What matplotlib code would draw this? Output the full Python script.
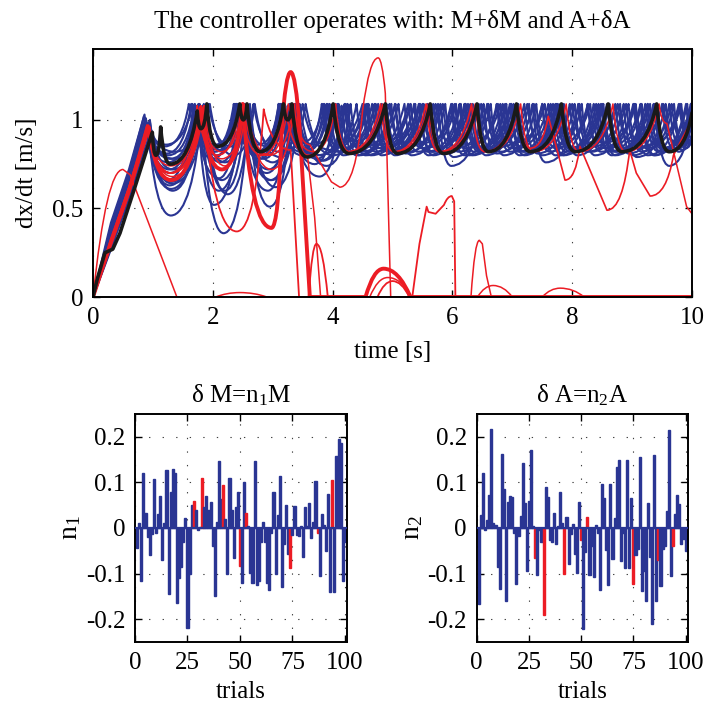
import matplotlib
matplotlib.use('Agg')
import matplotlib.pyplot as plt
from matplotlib.path import Path
from matplotlib.patches import PathPatch

plt.rcParams['font.family'] = ['Liberation Serif', 'DejaVu Serif']
plt.rcParams['mathtext.fontset'] = 'custom'
plt.rcParams['mathtext.rm'] = 'Liberation Serif'
plt.rcParams['mathtext.it'] = 'Liberation Serif:italic'
plt.rcParams['axes.unicode_minus'] = False

# ---------------- data: top panel (time [s], dx/dt [m/s]) vertices
# kinds: L = straight, C = scallop (cusp at top, round trough), A = arch (round top)
blue_b01 = [(0,0),(0.3,0.3),(0.6,0.68),(0.92,0.97),(1.3,0.46),(1.82,1.06),(2.18,0.36),(2.6,1.07),(2.95,0.51),(3.3,1.09),(3.78,0.68),(4.15,1.08),(4.4,0.8),(4.98,1.09),(5.22,0.81),(5.76,1.09),(5.98,0.74),(6.52,1.09),(6.74,0.81),(7.28,1.09),(7.5,0.8),(8.04,1.09),(8.26,0.82),(8.8,1.09),(9.02,0.8),(9.56,1.09),(9.78,0.82),(10,1.0)]
blue_b02 = [(0,0),(0.3,0.34),(0.6,0.62),(0.9,0.98),(1.28,0.63),(1.75,1.08),(2.02,0.52),(2.48,1.09),(2.92,0.6),(3.25,1.08),(3.7,0.75),(4.05,1.09),(4.28,0.82),(4.82,1.09),(5.04,0.8),(5.58,1.09),(5.8,0.82),(6.34,1.09),(6.56,0.8),(7.1,1.09),(7.32,0.82),(7.86,1.09),(8.08,0.8),(8.62,1.09),(8.84,0.82),(9.38,1.09),(9.62,0.74),(10,1.05)]
blue_b03 = [(0,0),(0.3,0.3),(0.6,0.6),(0.95,1.0),(1.3,0.65),(1.85,1.09),(2.2,0.6),(2.55,1.08),(2.98,0.66),(3.4,1.09),(3.85,0.77),(4.25,1.09),(4.48,0.82),(5.1,1.09),(5.32,0.8),(5.88,1.09),(6.1,0.82),(6.64,1.09),(6.86,0.8),(7.4,1.09),(7.62,0.82),(8.16,1.09),(8.38,0.8),(8.94,1.09),(9.16,0.82),(9.7,1.09),(9.9,0.84),(10,0.9)]
blue_b04 = [(0,0),(0.3,0.36),(0.6,0.66),(0.88,0.96),(1.25,0.76),(1.7,1.07),(2.1,0.67),(2.42,1.09),(2.8,0.8),(3.15,1.09),(3.55,0.82),(3.95,1.09),(4.18,0.8),(4.7,1.09),(4.92,0.82),(5.46,1.09),(5.68,0.8),(6.22,1.09),(6.44,0.82),(6.98,1.09),(7.2,0.8),(7.74,1.09),(7.96,0.82),(8.5,1.09),(8.72,0.8),(9.26,1.09),(9.48,0.82),(10,1.09)]
blue_b05 = [(0,0),(0.3,0.4),(0.6,0.7),(0.85,1.02),(1.2,0.85),(1.6,1.09),(1.98,0.83),(2.35,1.09),(2.72,0.82),(3.1,1.09),(3.48,0.8),(3.86,1.09),(4.08,0.82),(4.6,1.09),(4.82,0.8),(5.36,1.09),(5.58,0.82),(6.12,1.09),(6.34,0.8),(6.88,1.09),(7.1,0.82),(7.64,1.09),(7.86,0.8),(8.4,1.09),(8.62,0.82),(9.16,1.09),(9.38,0.8),(9.92,1.09),(10,1.0)]
blue_b06 = [(0,0),(0.3,0.28),(0.6,0.56),(0.93,0.95),(1.32,0.64),(1.88,1.08),(2.25,0.58),(2.62,1.09),(3.05,0.62),(3.45,1.09),(3.9,0.74),(4.3,1.09),(4.55,0.8),(5.2,1.09),(5.42,0.82),(5.98,1.09),(6.2,0.8),(6.74,1.09),(6.96,0.82),(7.5,1.09),(7.72,0.8),(8.26,1.09),(8.48,0.82),(9.04,1.09),(9.26,0.8),(9.8,1.09),(10,0.86)]
blue_b07 = [(0,0),(0.3,0.33),(0.6,0.63),(0.9,0.97),(1.27,0.72),(1.72,1.08),(2.06,0.8),(2.45,1.09),(2.85,0.78),(3.2,1.09),(3.62,0.8),(4.0,1.09),(4.22,0.84),(4.76,1.09),(4.98,0.82),(5.52,1.09),(5.74,0.84),(6.3,1.09),(6.52,0.82),(7.06,1.09),(7.28,0.84),(7.84,1.09),(8.06,0.82),(8.62,1.09),(8.84,0.84),(9.4,1.09),(9.62,0.82),(10,1.06)]
blue_b08 = [(0,0),(0.3,0.27),(0.6,0.55),(0.96,0.93),(1.35,0.78),(1.93,1.09),(2.3,0.85),(2.68,1.09),(3.1,0.82),(3.5,1.09),(3.95,0.83),(4.4,1.09),(4.64,0.8),(5.3,1.09),(5.52,0.84),(6.06,1.09),(6.28,0.8),(6.84,1.09),(7.06,0.84),(7.6,1.09),(7.82,0.8),(8.36,1.09),(8.58,0.84),(9.14,1.09),(9.36,0.8),(9.9,1.09),(10,0.95)]
blue_b09 = [(0,0),(0.3,0.38),(0.6,0.68),(0.87,1.0),(1.22,0.86),(1.66,1.09),(2.0,0.84),(2.38,1.09),(2.76,0.82),(3.13,1.09),(3.5,0.84),(3.9,1.09),(4.12,0.82),(4.66,1.09),(4.88,0.84),(5.44,1.09),(5.66,0.82),(6.2,1.09),(6.42,0.84),(6.96,1.09),(7.18,0.82),(7.72,1.09),(7.94,0.84),(8.48,1.09),(8.7,0.82),(9.26,1.09),(9.48,0.84),(10,1.05)]
blue_b10 = [(0,0),(0.3,0.32),(0.6,0.6),(0.9,0.96),(1.3,0.61),(1.8,1.07),(2.15,0.66),(2.52,1.09),(2.96,0.66),(3.36,1.09),(3.82,0.77),(4.2,1.09),(4.44,0.8),(5.04,1.09),(5.26,0.82),(5.8,1.09),(6.02,0.79),(6.58,1.09),(6.8,0.82),(7.34,1.09),(7.56,0.76),(8.1,1.09),(8.32,0.82),(8.86,1.09),(9.08,0.79),(9.62,1.09),(9.84,0.83),(10,0.92)]
blue_b11 = [(0,0),(0.3,0.31),(0.6,0.58),(0.94,0.99),(1.33,0.6),(1.78,1.09),(2.12,0.76),(2.5,1.09),(2.9,0.7),(3.28,1.09),(3.74,0.78),(4.08,1.09),(4.33,0.81),(4.9,1.09),(5.12,0.83),(5.68,1.09),(5.9,0.81),(6.44,1.09),(6.66,0.83),(7.2,1.09),(7.42,0.81),(7.96,1.09),(8.18,0.83),(8.72,1.09),(8.94,0.81),(9.5,1.09),(9.72,0.83),(10,1.0)]
blue_b12 = [(0,0),(0.3,0.42),(0.6,0.72),(0.86,1.03),(1.24,0.66),(1.68,1.08),(2.04,0.82),(2.4,1.09),(2.78,0.78),(3.16,1.09),(3.56,0.82),(3.92,1.09),(4.16,0.84),(4.72,1.09),(4.94,0.82),(5.5,1.09),(5.72,0.84),(6.26,1.09),(6.48,0.82),(7.02,1.09),(7.24,0.84),(7.8,1.09),(8.02,0.82),(8.58,1.09),(8.8,0.84),(9.36,1.09),(9.58,0.82),(10,1.1)]
blue_b13 = [(0,0),(0.3,0.35),(0.6,0.64),(0.91,0.98),(1.28,0.7),(1.76,1.08),(2.1,0.6),(2.5,1.09),(2.93,0.72),(3.3,1.09),(3.72,0.8),(4.5,1.09),(4.72,0.82),(5.38,1.09),(5.6,0.8),(6.14,1.09),(6.36,0.82),(6.9,1.09),(7.12,0.8),(7.68,1.09),(7.9,0.82),(8.44,1.09),(8.66,0.8),(9.22,1.09),(9.44,0.82),(9.98,1.09),(10,1.05)]
blue_b14 = [(0,0),(0.3,0.29),(0.6,0.57),(0.97,0.94),(1.36,0.82),(1.95,1.09),(2.35,0.8),(2.7,1.09),(3.12,0.79),(3.55,1.09),(4.0,0.8),(4.58,1.09),(4.8,0.84),(5.45,1.09),(5.67,0.82),(6.22,1.09),(6.44,0.84),(6.98,1.09),(7.2,0.82),(7.76,1.09),(7.98,0.84),(8.52,1.09),(8.74,0.82),(9.3,1.09),(9.52,0.84),(10,1.02)]
blue_b15 = [(0,0),(0.3,0.37),(0.6,0.65),(0.89,0.99),(1.26,0.8),(1.7,1.09),(2.04,0.86),(2.4,1.09),(2.76,0.86),(3.12,1.09),(3.48,0.87),(3.84,1.09),(4.06,0.86),(4.56,1.09),(4.78,0.86),(5.3,1.09),(5.52,0.87),(6.04,1.09),(6.26,0.86),(6.8,1.09),(7.02,0.87),(7.54,1.09),(7.76,0.86),(8.3,1.09),(8.52,0.87),(9.06,1.09),(9.28,0.86),(9.82,1.09),(10,0.9)]
blue_b16 = [(0,0),(0.3,0.3),(0.6,0.59),(0.92,0.97),(1.29,0.78),(1.76,1.09),(2.12,0.83),(2.52,1.09),(2.9,0.85),(3.3,1.09),(3.68,0.86),(4.1,1.09),(4.34,0.88),(4.95,1.09),(5.17,0.87),(5.72,1.09),(5.94,0.88),(6.48,1.09),(6.7,0.87),(7.25,1.09),(7.47,0.88),(8.0,1.09),(8.22,0.87),(8.76,1.09),(8.98,0.88),(9.52,1.09),(9.74,0.87),(10,1.0)]
blue_b17 = [(0,0),(0.3,0.34),(0.6,0.61),(0.95,0.99),(1.33,0.72),(1.83,1.08),(2.2,0.76),(2.58,1.09),(3.0,0.76),(3.38,1.09),(3.8,0.8),(4.22,1.09),(4.46,0.84),(5.05,1.09),(5.27,0.85),(5.84,1.09),(6.06,0.84),(6.6,1.09),(6.82,0.85),(7.36,1.09),(7.58,0.84),(8.12,1.09),(8.34,0.85),(8.9,1.09),(9.12,0.84),(9.66,1.09),(9.88,0.86),(10,0.92)]
blue_b18 = [(0,0),(0.3,0.39),(0.6,0.69),(0.88,1.01),(1.23,0.81),(1.64,1.09),(2.0,0.78),(2.36,1.09),(2.74,0.8),(3.1,1.09),(3.46,0.82),(3.82,1.09),(4.04,0.84),(4.52,1.09),(4.74,0.84),(5.26,1.09),(5.48,0.84),(6.0,1.09),(6.22,0.84),(6.76,1.09),(6.98,0.84),(7.5,1.09),(7.72,0.84),(8.26,1.09),(8.48,0.84),(9.02,1.09),(9.24,0.84),(9.78,1.09),(10,0.88)]
blue_runs = [blue_b01, blue_b02, blue_b03, blue_b04, blue_b05, blue_b06, blue_b07,
             blue_b08, blue_b09, blue_b10, blue_b11, blue_b12, blue_b13, blue_b14,
             blue_b15, blue_b16, blue_b17, blue_b18]

mean_run = [(0,0),(0.07,0.1),(0.2,0.25),(0.33,0.27),(0.45,0.36),(0.7,0.62),(0.99,0.93),(1.05,0.8),(1.13,0.96),(1.29,0.75),(1.74,1.05),(1.8,0.95),(1.9,1.09),(2.08,0.85),(2.45,1.09),(2.51,1.0),(2.57,1.09),(2.79,0.82),(3.18,1.09),(3.25,1.0),(3.32,1.09),(3.57,0.79),(4.01,1.09),(4.27,0.81),(4.88,1.09),(5.08,0.81),(5.63,1.09),(5.85,0.81),(6.41,1.09),(6.6,0.82),(7.07,1.09),(7.3,0.82),(7.82,1.09),(8.05,0.82),(8.6,1.09),(8.83,0.82),(9.41,1.09),(9.62,0.82),(10,1.04)]
mean_kinds = 'LLLLLL' + 'C' * 32

red_r01 = [(0,0),(0.5,0.72),(0.62,0.69),(1.4,0),(2.05,0),(2.45,0.025),(2.9,0),(6.31,0),(6.45,0.32),(6.5,0.3),(6.57,0.12),(6.65,0),(10,0)]
red_r01_kinds = 'ALLLAALALLLL'
red_r02 = [(0,0),(0.3,0.33),(0.6,0.62),(0.92,0.97),(1.3,0.7),(1.85,1.08),(2.4,0.37),(2.85,1.06),(3.3,0.83),(3.44,0),(3.6,0),(3.73,0.3),(3.92,0),(4.75,0),(5.0,0.09),(5.28,0),(5.33,0),(5.45,0.3),(5.57,0.51),(5.6,0.48),(5.72,0.47),(5.86,0.52),(5.99,0.57),(6.03,0.54),(6.05,0),(10,0)]
red_r02_kinds = 'LLLCCCCCLLAALAALLLLLLALLL'
red_r03 = [(0,0),(0.3,0.31),(0.6,0.6),(0.93,0.96),(1.3,0.66),(1.8,1.07),(2.15,0.72),(2.5,1.09),(2.98,0.39),(3.15,0.95),(3.3,1.27),(3.45,0.95),(3.62,0),(4.55,0),(4.85,0.16),(5.3,0),(10,0)]
red_r03_kinds = 'LLLCCCCCCAALLAAL'
red_r04 = [(0,0),(0.3,0.3),(0.6,0.6),(0.92,0.97),(1.3,0.7),(1.8,1.08),(2.15,0.78),(2.55,1.09),(2.95,0.8),(3.35,1.09),(3.62,0.86),(3.98,0.65),(4.12,0.62),(4.5,1.05),(4.76,1.35),(4.88,1.15),(4.97,0),(6.42,0),(6.68,0.065),(7.0,0),(7.5,0),(7.8,0.05),(8.2,0),(10,0)]
red_r04_kinds = 'LLLCCCCCCCLLCAALLAALAAL'
red_r05 = [(0,0),(0.3,0.32),(0.6,0.62),(0.9,0.97),(1.28,0.7),(1.74,1.08),(2.08,0.8),(2.46,1.09),(2.82,0.8),(3.2,1.09),(3.6,0.8),(4.0,1.09),(4.24,0.82),(4.8,1.09),(5.02,0.82),(5.56,1.09),(5.78,0.82),(6.32,1.09),(6.54,0.82),(7.08,1.09),(7.3,0.84),(7.6,1.02),(7.88,0.66),(8.13,0.85),(8.58,0.49),(8.96,0.83),(9.07,0.7),(9.3,0.57),(9.69,0.8),(10,1.0)]
red_r05_kinds = 'LLL' + 'C' * 18 + 'LCLCLLCL'
red_r06 = [(0,0),(0.3,0.3),(0.6,0.6),(0.9,0.97),(1.3,0.74),(1.8,1.08),(2.14,0.82),(2.5,1.09),(2.9,0.8),(3.26,1.09),(3.68,0.82),(4.05,1.09),(4.28,0.82),(4.84,1.09),(5.06,0.82),(5.6,1.09),(5.82,0.82),(6.38,1.09),(6.6,0.82),(7.14,1.09),(7.36,0.82),(7.9,1.09),(8.12,0.82),(8.68,1.09),(8.9,0.82),(9.45,1.09),(9.58,0.98),(9.91,0.51),(10,0.47)]
red_r06_kinds = 'LLL' + 'C' * 23 + 'LL'
red_r07 = [(0,0),(0.3,0.29),(0.6,0.58),(0.94,0.95),(1.32,0.68),(1.86,1.08),(2.2,0.74),(2.56,1.09),(2.98,0.72),(3.36,1.09),(3.58,0.8),(3.7,0.45),(3.8,0),(4.62,0),(4.92,0.11),(5.32,0),(10,0)]
red_r07_kinds = 'LLLCCCCCCCLLLAAL'
red_runs = [(red_r01, red_r01_kinds, 1.1), (red_r02, red_r02_kinds, 1.3),
            (red_r03, red_r03_kinds, 2.8), (red_r04, red_r04_kinds, 1.1),
            (red_r05, red_r05_kinds, 1.2), (red_r06, red_r06_kinds, 1.1),
            (red_r07, red_r07_kinds, 1.1)]

# ---------------- data: bottom panels
trials = list(range(1, 101))
n1 = [-0.044, 0.012, -0.117, 0.12, 0.032, -0.02, -0.06, -0.013, 0.107, -0.012,
      0.03, 0.07, -0.07, 0.01, 0.127, -0.145, 0.08, 0.13, 0.12, -0.165,
      -0.11, -0.085, -0.03, 0.022, -0.22, -0.10, 0.05, 0.06, 0.04, -0.005,
      0.003, 0.11, 0.045, 0.07, 0.04, 0.057, -0.04, -0.15, 0.013, 0.147,
      0.064, 0.095, 0.02, -0.1, 0.11, 0.04, -0.065, 0.045, 0.078, -0.084,
      -0.12, 0.1, 0.033, 0.004, -0.098, -0.12, 0.148, -0.125, -0.116, -0.03,
      0.013, -0.03, -0.12, -0.135, -0.01, 0.08, -0.1, 0.028, 0.114, -0.13,
      -0.035, 0.05, -0.057, -0.088, -0.016, 0.049, -0.016, -0.018, 0.005, -0.064,
      0.046, 0.005, 0.054, -0.022, 0.013, 0.102, -0.01, -0.105, 0.03, 0.006,
      -0.05, 0.074, -0.14, 0.105, -0.14, 0.157, 0.196, 0.187, -0.116, -0.03]
n2 = [-0.166, 0.028, 0.12, -0.005, 0.017, 0.072, 0.218, 0.01, 0.006, -0.085,
      -0.134, 0.163, 0.085, -0.16, 0.058, 0.07, 0.067, -0.01, -0.122, -0.018,
      0.026, 0.143, 0.054, -0.095, 0.06, 0.17, 0.005, -0.066, -0.103, -0.005,
      -0.03, -0.19, 0.09, 0.067, -0.027, -0.03, 0.032, -0.036, 0.005, 0.08,
      0.01, -0.1, 0.024, -0.078, -0.014, 0.008, -0.058, -0.098, 0.057, -0.027,
      -0.222, -0.053, 0.025, -0.103, -0.04, -0.108, 0.006, -0.01, -0.137, 0.096,
      0.065, -0.048, -0.124, 0.097, -0.068, 0.023, 0.134, 0.15, -0.072, -0.01,
      -0.088, 0.15, -0.088, 0.066, -0.123, -0.06, -0.045, 0.155, -0.138, -0.094,
      -0.16, 0.054, -0.064, -0.21, 0.16, -0.16, -0.07, -0.128, -0.045, -0.04,
      0.037, 0.215, -0.105, -0.04, 0.03, 0.072, 0.052, -0.035, -0.024, -0.05]
failed_1 = [28, 32, 42, 50, 53, 74, 87, 94]
failed_2 = [28, 32, 42, 50, 53, 75, 87, 94]

BLUE = '#2a3593'
RED = '#ec1c24'
BLACK = '#1a1a1a'
FS = 18
C_SKEW = 0.3    # rendering style of scallop segments
A_SKEW = 0.45   # rendering style of arch segments


def run_path(pts, kinds):
    verts = [pts[0]]
    codes = [Path.MOVETO]
    for a, b, k in zip(pts[:-1], pts[1:], kinds):
        if k == 'L':
            verts.append(b)
            codes.append(Path.LINETO)
        else:
            hi, lo = (a, b) if a[1] >= b[1] else (b, a)
            if k == 'C':
                ctrl = (hi[0] + C_SKEW * (lo[0] - hi[0]), lo[1])
            else:
                ctrl = (lo[0] + A_SKEW * (hi[0] - lo[0]), hi[1])
            verts += [ctrl, b]
            codes += [Path.CURVE3, Path.CURVE3]
    return Path(verts, codes)


def style(ax):
    for s in ax.spines.values():
        s.set_linewidth(1.4)
        s.set_color('black')
    ax.tick_params(direction='in', length=5, width=1.0, top=True, right=True,
                   labelsize=FS, pad=7)
    ax.grid(True, color='0.25', linestyle=(0, (1.2, 11)), linewidth=0.8)
    ax.set_axisbelow(True)


fig = plt.figure(figsize=(7.07, 7.11), dpi=100)

# ---------------- top panel
ax = fig.add_axes([93 / 707, 1 - 297 / 711, 599 / 707, 248 / 711])
for run in blue_runs:
    ax.add_patch(PathPatch(run_path(run, 'LLL' + 'C' * (len(run) - 4)), fill=False,
                           edgecolor=BLUE, lw=1.5, joinstyle='round', capstyle='round'))
for run, kinds, lw in red_runs:
    ax.add_patch(PathPatch(run_path(run, kinds), fill=False, edgecolor=RED, lw=lw,
                           joinstyle='round', capstyle='round'))
ax.add_patch(PathPatch(run_path(mean_run, mean_kinds), fill=False, edgecolor=BLACK,
                       lw=2.6, joinstyle='round', capstyle='round'))
ax.set_xlim(0, 10)
ax.set_ylim(0, 1.4)
ax.set_xticks([0, 2, 4, 6, 8, 10])
ax.set_yticks([0, 0.5, 1])
ax.set_yticklabels(['0', '0.5', '1'])
style(ax)
ax.set_xlabel('time [s]', fontsize=FS, labelpad=9)
ax.set_ylabel('dx/dt [m/s]', fontsize=FS, labelpad=10)
ax.set_title('The controller operates with: M+\u03b4M and A+\u03b4A', fontsize=FS, pad=15)

# ---------------- bottom panels
def bar_panel(rect, vals, failed, title, ylab):
    a = fig.add_axes(rect)
    cols = [RED if t in failed else BLUE for t in trials]
    a.bar(trials, vals, width=1.0, color=cols, edgecolor=cols, linewidth=1.0, zorder=2)
    a.axhline(0, color=BLUE, lw=1.6, zorder=3)
    a.set_xlim(0, 101)
    a.set_ylim(-0.25, 0.25)
    a.set_xticks([0, 25, 50, 75, 100])
    a.set_yticks([-0.2, -0.1, 0, 0.1, 0.2])
    a.set_yticklabels(['-0.2', '-0.1', '0', '0.1', '0.2'])
    style(a)
    a.set_xlabel('trials', fontsize=FS, labelpad=5)
    a.set_ylabel(ylab, fontsize=FS + 2, labelpad=2)
    a.set_title(title, fontsize=FS, pad=8)
    return a

bar_panel([135 / 707, 1 - 642 / 711, 212 / 707, 228 / 711], n1, failed_1,
          '\u03b4 M=n$_1$M', 'n$_1$')
bar_panel([476.7 / 707, 1 - 642 / 711, 211 / 707, 228 / 711], n2, failed_2,
          '\u03b4 A=n$_2$A', 'n$_2$')

fig.savefig('out.png', dpi=100)
